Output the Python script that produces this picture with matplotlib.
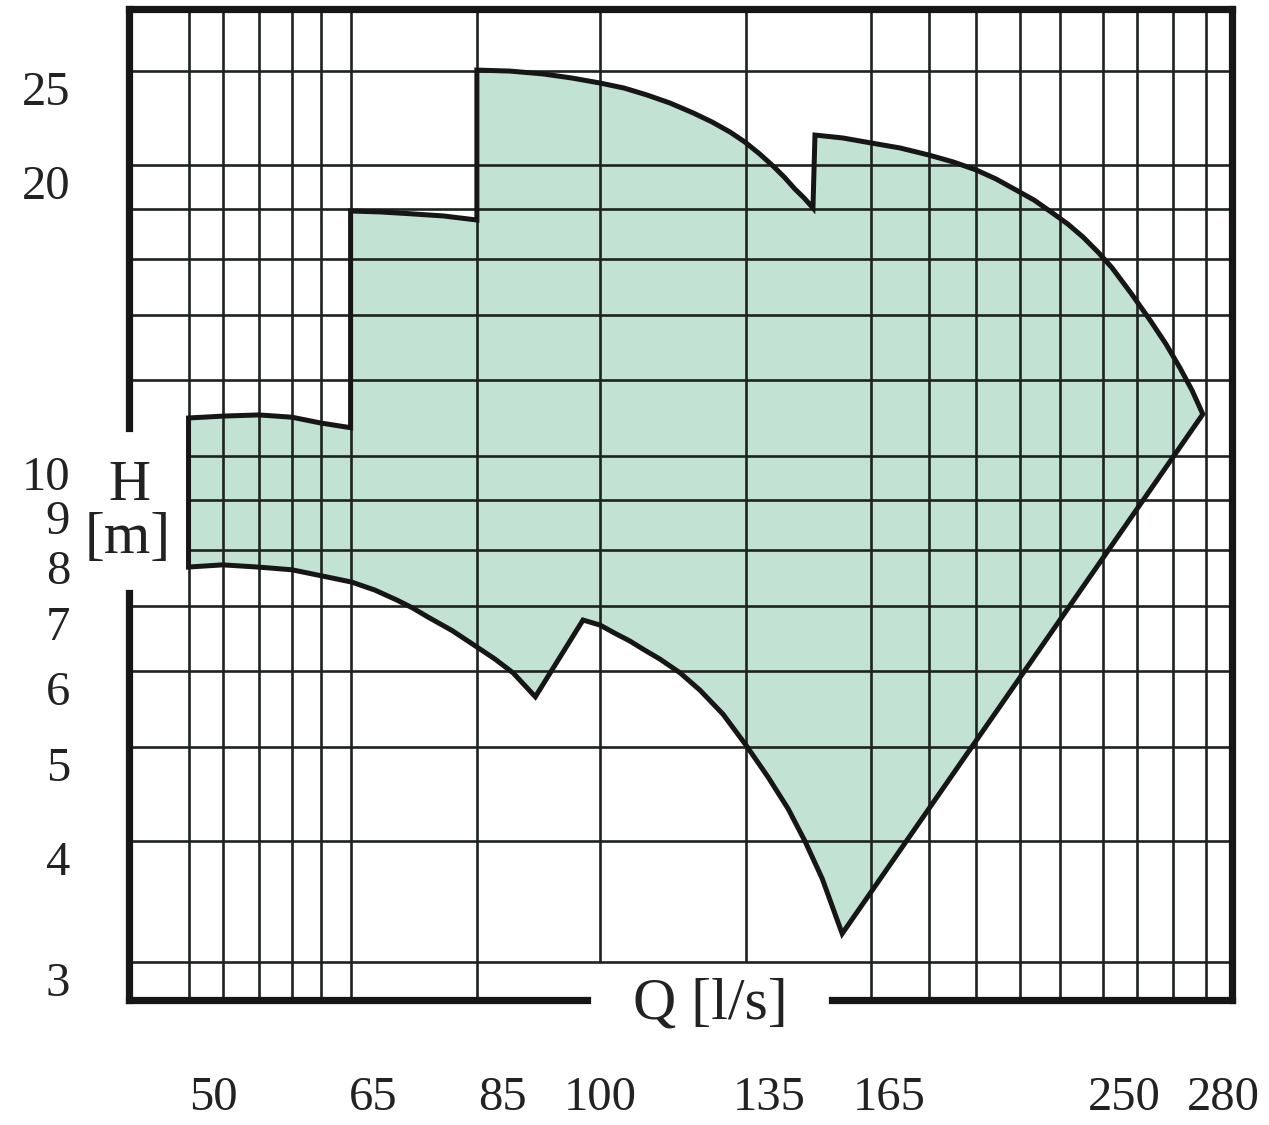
import numpy as np
import matplotlib
matplotlib.use("Agg")
import matplotlib.pyplot as plt
from matplotlib.ticker import NullLocator

# ---------------- data ----------------
# Q axis labels [l/s] and where they sit along the (non-uniform) Q axis, as fraction of width
Q_TICKS = [50, 65, 85, 100, 135, 165, 250, 280]
Q_TICK_FRAC = [0.0762, 0.2212, 0.3382, 0.4270, 0.5802, 0.6890, 0.9021, 0.9918]

# H axis labels [m] and horizontal grid values
H_TICKS = [3, 4, 5, 6, 7, 8, 9, 10, 20, 25]
H_GRID = [3, 4, 5, 6, 7, 8, 9, 10, 12, 14, 16, 18, 20, 25]
H_GRID_SHORT = [8, 9, 10]            # these start at the first vertical line

# vertical grid lines (Q values)
Q_GRID = [47.7, 50.9, 54.3, 57.4, 60.1, 62.9, 81.1, 100.0, 130.2, 160.5,
          179.5, 196.5, 212.4, 226.9, 242.4, 253.9, 264.8, 274.8]
Q_GRID_SHORT = [100.0, 130.2]        # these stop at H = 3 (gap for the Q label)

# operating envelope (Q [l/s], H [m]), read clockwise from the lower-left corner
ENV_Q = [
    # left step (first pump)
    47.7, 47.7, 51.0, 54.3, 57.4, 60.1, 62.9,
    # second step
    62.9, 66.1, 70.4, 75.9, 81.1,
    # third step, top arc
    81.1, 86.2, 91.3, 95.7, 100.0, 105.0, 109.7, 114.5, 119.3, 123.2,
    126.9, 130.0, 133.1, 136.0, 138.8, 141.5, 143.8, 146.0,
    # last step, right arc
    146.5, 153.5, 160.5, 169.0, 179.5, 188.2, 196.5, 203.7, 210.9, 217.5,
    223.6, 229.7, 235.2, 240.6, 245.7, 252.1, 257.9, 262.7, 267.0, 270.6, 273.9,
    # lower right arc (back from the bottom tip)
    153.3, 148.3, 144.0, 139.8, 134.8, 130.2, 125.5, 120.7, 116.6, 112.4,
    109.3, 106.2, 103.1, 100.0, 97.4,
    # lower left arc
    90.1, 86.7, 83.9, 81.1, 77.3, 73.5, 71.1, 68.7, 65.3, 63.0, 60.2, 57.4,
    54.2, 50.9,
]
ENV_H = [
    7.68, 10.95, 11.00, 11.03, 10.97, 10.82, 10.70,
    17.92, 17.88, 17.81, 17.71, 17.54,
    25.06, 25.00, 24.83, 24.59, 24.30, 24.01, 23.62, 23.17, 22.63, 22.15,
    21.63, 21.12, 20.52, 19.95, 19.43, 18.88, 18.48, 18.05,
    21.47, 21.32, 21.07, 20.82, 20.47, 20.14, 19.76, 19.34, 18.84, 18.39,
    17.88, 17.37, 16.84, 16.25, 15.65, 14.74, 13.82, 13.06, 12.33, 11.70, 11.05,
    3.21, 3.66, 4.00, 4.32, 4.66, 5.03, 5.41, 5.73, 5.97, 6.17,
    6.30, 6.44, 6.56, 6.69, 6.77,
    5.64, 5.97, 6.17, 6.35, 6.60, 6.82, 6.97, 7.10, 7.27, 7.41, 7.52, 7.63,
    7.68, 7.72,
]

# ---------------- scale ----------------
def _pl(x, xs, ys):
    x = np.asarray(x, dtype=float)
    xs = np.asarray(xs, dtype=float)
    ys = np.asarray(ys, dtype=float)
    y = np.interp(x, xs, ys)
    lo_s = (ys[1] - ys[0]) / (xs[1] - xs[0])
    hi_s = (ys[-1] - ys[-2]) / (xs[-1] - xs[-2])
    y = np.where(x < xs[0], ys[0] + (x - xs[0]) * lo_s, y)
    y = np.where(x > xs[-1], ys[-1] + (x - xs[-1]) * hi_s, y)
    return y

def q_fwd(q):
    return _pl(q, Q_TICKS, Q_TICK_FRAC)

def q_inv(u):
    return _pl(u, Q_TICK_FRAC, Q_TICKS)

# ---------------- figure ----------------
W, H = 1269, 1125
fig = plt.figure(figsize=(W / 100, H / 100), dpi=100)
ax = fig.add_axes([129 / W, 125 / H, 1103 / W, 991 / H])
ax.set_xscale("function", functions=(q_fwd, q_inv))
ax.set_yscale("log")
x0, x1 = float(q_inv(0.0)), float(q_inv(1.0))
y0, y1 = 2.741, 28.98
ax.set_xlim(x0, x1)
ax.set_ylim(y0, y1)
for s in ax.spines.values():
    s.set_visible(False)
ax.set_xticks([])
ax.set_yticks([])
ax.xaxis.set_minor_locator(NullLocator())
ax.yaxis.set_minor_locator(NullLocator())

FILL = "#c2e2d3"
INK = "#161616"
GRID = "#1e2320"

# envelope fill
ax.fill(ENV_Q, ENV_H, facecolor=FILL, edgecolor="none", zorder=1)

# grid
for q in Q_GRID:
    ymin = 3 if q in Q_GRID_SHORT else y0
    ax.vlines(q, ymin, y1, colors=GRID, linewidth=1.9, zorder=2)
for h in H_GRID:
    xmin = Q_GRID[0] if h in H_GRID_SHORT else x0
    ax.hlines(h, xmin, x1, colors=GRID, linewidth=1.9, zorder=2)

# envelope outline
ax.fill(ENV_Q, ENV_H, facecolor="none", edgecolor=INK, linewidth=3.6,
        joinstyle="miter", zorder=3)

# frame with gaps for axis titles
fk = dict(transform=ax.transAxes, color=INK, linewidth=5.2, clip_on=False,
          solid_capstyle="projecting", zorder=4)
ax.plot([0, 1], [1, 1], **fk)
ax.plot([1, 1], [0, 1], **fk)
ax.plot([0, 0], [0, 0.4107], **fk)
ax.plot([0, 0], [0.5772, 1], **fk)
ax.plot([0, 0.4152], [0, 0], **fk)
ax.plot([0.6374, 1], [0, 0], **fk)

SERIF = ["Liberation Serif", "DejaVu Serif"]
TXT = "#222222"

# H tick labels (sit just below their grid lines)
for h in H_TICKS:
    ax.annotate(str(h), xy=(0, h), xycoords=("axes fraction", "data"),
                xytext=(-59, -34), textcoords="offset pixels",
                ha="right", va="baseline", fontsize=35, family=SERIF, color=TXT)

# Q tick labels
for q in Q_TICKS:
    ax.annotate(str(q), xy=(q, 0), xycoords=("data", "axes fraction"),
                xytext=(0, -110), textcoords="offset pixels",
                ha="center", va="baseline", fontsize=35, family=SERIF, color=TXT)

# axis titles
fig.text(129.5 / W, 1 - 500 / H, "H", ha="center", va="baseline",
         fontsize=42, family=SERIF, color=TXT)
fig.text(128 / W, 1 - 553 / H, "[m]", ha="center", va="baseline",
         fontsize=43, family=SERIF, color=TXT)
fig.text(710 / W, 1 - 1018 / H, "Q [l/s]", ha="center", va="baseline",
         fontsize=43, family=SERIF, color=TXT)

fig.savefig("out.png", dpi=100, facecolor="white")
